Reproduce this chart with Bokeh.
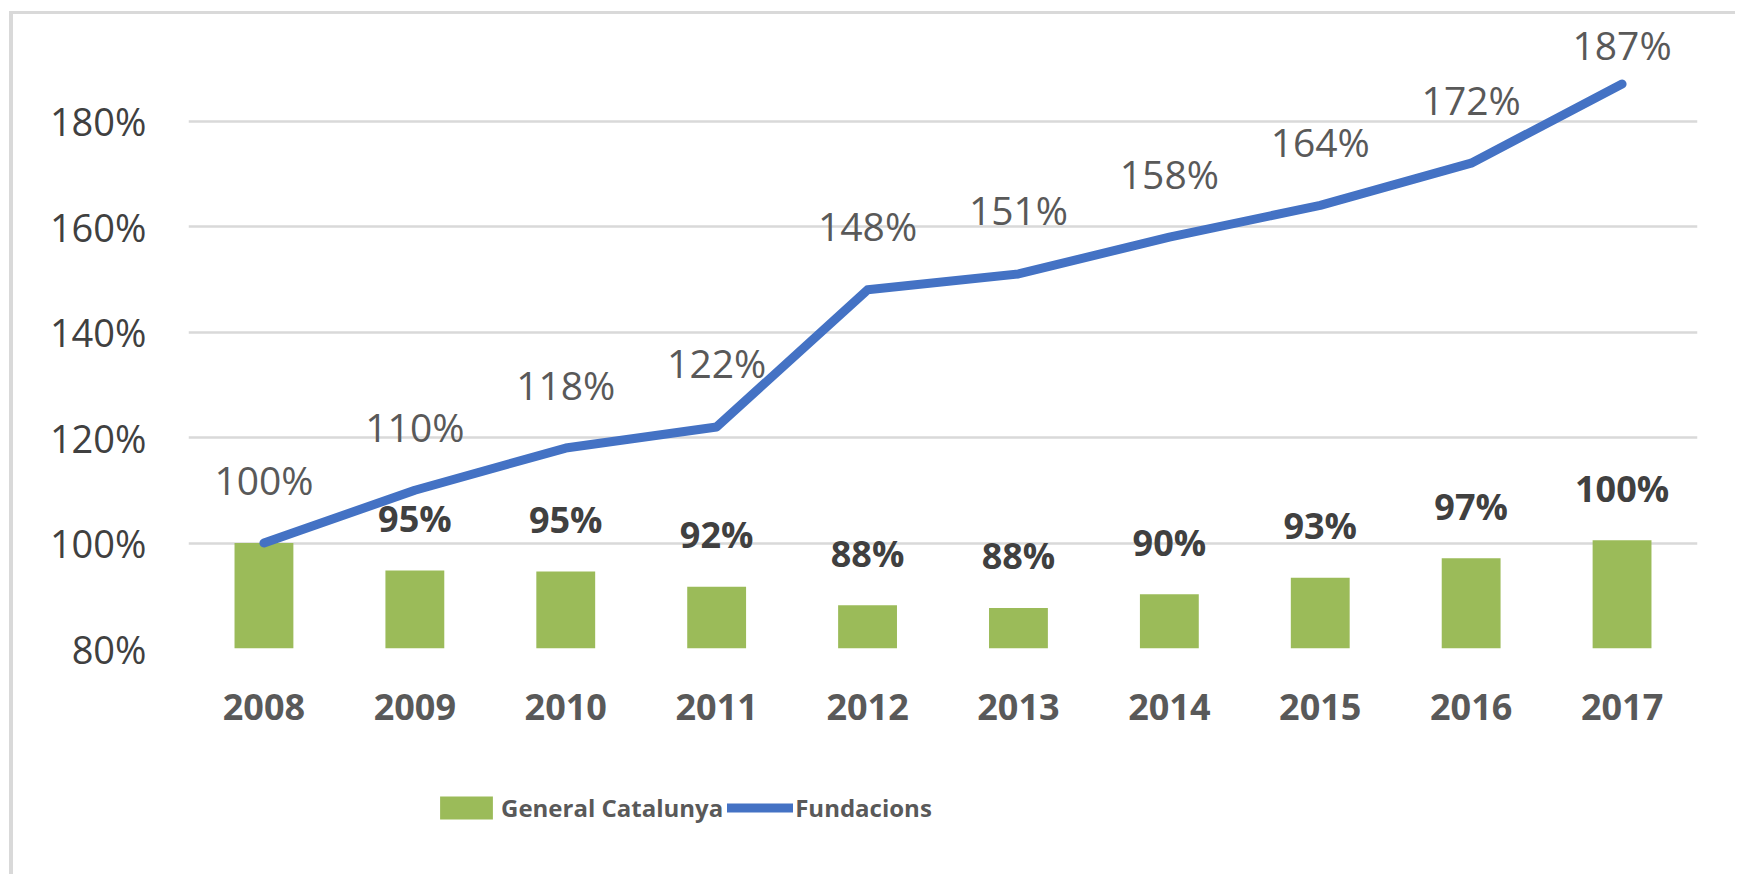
from bokeh.plotting import figure
from bokeh.layouts import column
from bokeh.models import (FactorRange, Range1d, PrintfTickFormatter, Legend,
                          LegendItem, ColumnDataSource, FixedTicker)
from bokeh.embed import file_html
from bokeh.resources import INLINE
from bokeh.core.properties import value

# ---- data ----
years = ["2008", "2009", "2010", "2011", "2012", "2013", "2014", "2015", "2016", "2017"]
general = [100.0, 94.8, 94.6, 91.7, 88.2, 87.7, 90.3, 93.4, 97.1, 100.5]
general_labels = ["", "95%", "95%", "92%", "88%", "88%", "90%", "93%", "97%", "100%"]
fundacions = [100, 110, 118, 122, 148, 151, 158, 164, 172, 187]
fundacions_labels = ["100%", "110%", "118%", "122%", "148%", "151%", "158%", "164%", "172%", "187%"]
y_ticks = [80, 100, 120, 140, 160, 180]
series_names = ["General Catalunya", "Fundacions"]

FONT = "Open Sans"
GREEN = "#9BBB59"
BLUE = "#4472C4"
TXT = "#595959"
W = 1722

src_bar = ColumnDataSource(dict(x=years, top=general, lab=general_labels))
src_line = ColumnDataSource(dict(x=years, y=fundacions, lab=fundacions_labels,
                                 off=[-64] * (len(years) - 1) + [-40]))

p = figure(x_range=FactorRange(*years, range_padding=0),
           y_range=Range1d(80, 200),
           width=W, height=740,
           min_border_left=175, min_border_right=38,
           min_border_top=1, min_border_bottom=106,
           output_backend="svg", toolbar_location=None)

p.outline_line_color = None
p.background_fill_color = "white"
p.border_fill_color = "white"

# axes
p.yaxis.ticker = FixedTicker(ticks=y_ticks)
p.yaxis.formatter = PrintfTickFormatter(format="%d%%")
for ax in (p.xaxis[0], p.yaxis[0]):
    ax.axis_line_color = None
    ax.major_tick_line_color = None
    ax.minor_tick_line_color = None
    ax.major_label_text_font = FONT
p.yaxis.major_label_text_font_size = "38px"
p.yaxis.major_label_text_color = "#404040"
p.yaxis.major_label_standoff = 36
p.xaxis.major_label_text_font_size = "36px"
p.xaxis.major_label_text_font_style = "bold"
p.xaxis.major_label_text_color = TXT
p.xaxis.major_label_standoff = 39

p.xgrid.visible = False
p.ygrid.ticker = FixedTicker(ticks=y_ticks)
p.ygrid.grid_line_color = "#D9D9D9"
p.ygrid.grid_line_width = 2.5

bar_style = dict(fill_color=GREEN, line_color=None)
line_style = dict(line_width=9, line_color=BLUE, line_cap="round", line_join="round")

p.vbar(x="x", top="top", bottom=80, width=0.39, source=src_bar, **bar_style)
p.line(x="x", y="y", source=src_line, **line_style)

p.text(x="x", y="y", text="lab", source=src_line, y_offset="off",
       text_align="center", text_baseline="alphabetic",
       text_font=value(FONT), text_font_size="39px", text_color=TXT)
p.text(x="x", y="top", text="lab", source=src_bar, y_offset=-52,
       text_align="center", text_baseline="alphabetic",
       text_font=value(FONT), text_font_size="36px", text_font_style="bold",
       text_color="#404040")

# ---- legend strip below the chart (hidden proxies of the same series) ----
lf = figure(width=W, height=120, x_range=p.x_range, y_range=Range1d(0, 1),
            x_axis_type=None, y_axis_type=None,
            min_border=0, output_backend="svg", toolbar_location=None)
lf.grid.visible = False
lf.outline_line_color = None
lf.border_fill_color = "white"
lbar = lf.vbar(x="x", top="top", bottom=80, width=0.39, source=src_bar,
               visible=False, **bar_style)
lline = lf.line(x="x", y="y", source=src_line, visible=False, **line_style)

legend = Legend(items=[LegendItem(label=series_names[0], renderers=[lbar]),
                       LegendItem(label=series_names[1], renderers=[lline])],
                orientation="horizontal", location=(245, 50),
                border_line_color=None, background_fill_alpha=0,
                inactive_fill_alpha=0,
                padding=0, margin=0, spacing=4, label_standoff=2,
                glyph_width=66, glyph_height=29, label_height=29,
                label_text_font=FONT, label_text_font_size="24px",
                label_text_font_style="bold", label_text_color=TXT)
lf.add_layout(legend)

lay = column(p, lf, spacing=0,
             styles={"margin-left": "9px", "margin-top": "11px",
                     "border-top": "3px solid #D9D9D9",
                     "border-left": "4px solid #D9D9D9"})

open("out.html", "w").write(file_html(lay, INLINE))
